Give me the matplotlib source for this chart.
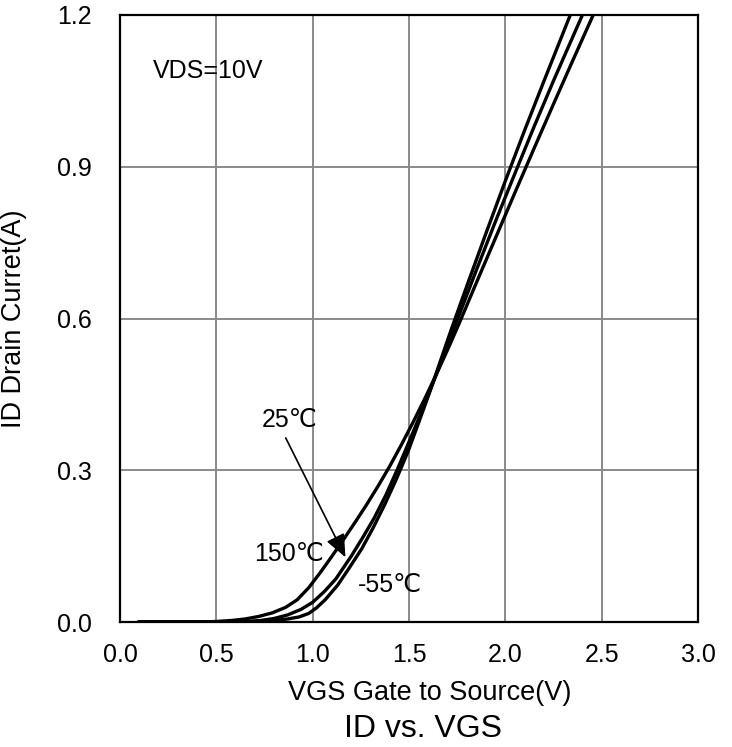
import numpy as np
import matplotlib
matplotlib.use("Agg")
import matplotlib.pyplot as plt

plt.rcParams['font.family'] = ['Liberation Sans', 'DejaVu Sans']

# ID vs VGS curves
vgs_150 = [0.10, 0.42, 0.50, 0.58, 0.65, 0.72, 0.79, 0.86, 0.92, 0.98, 1.04, 1.10,
           1.16, 1.22, 1.28, 1.34, 1.40, 1.46, 1.52, 1.58, 1.64, 1.70, 1.76,
           1.85, 1.95, 2.05, 2.15, 2.25, 2.35, 2.456]
id_150 = [0.0, 0.0, 0.001, 0.003, 0.006, 0.011, 0.018, 0.029, 0.044, 0.068, 0.098, 0.130,
          0.163, 0.197, 0.232, 0.269, 0.308, 0.350, 0.394, 0.440, 0.488, 0.538, 0.590,
          0.671, 0.760, 0.849, 0.937, 1.024, 1.110, 1.200]

vgs_25 = [0.10, 0.55, 0.65, 0.73, 0.80, 0.87, 0.94, 1.00, 1.06, 1.12, 1.20, 1.26,
          1.32, 1.38, 1.44, 1.50, 1.56, 1.62, 1.68, 1.75, 1.85, 1.95, 2.05,
          2.15, 2.25, 2.40]
id_25 = [0.0, 0.0, 0.001, 0.003, 0.007, 0.014, 0.025, 0.039, 0.060, 0.085, 0.130, 0.167,
         0.206, 0.251, 0.302, 0.356, 0.411, 0.468, 0.527, 0.597, 0.696, 0.793, 0.887,
         0.980, 1.070, 1.200]

vgs_m55 = [0.10, 0.62, 0.72, 0.80, 0.87, 0.93, 0.98, 1.02, 1.065, 1.13, 1.19, 1.255,
           1.315, 1.375, 1.435, 1.495, 1.55, 1.607, 1.663, 1.72, 1.80, 1.90, 2.00,
           2.10, 2.20, 2.337]
id_m55 = [0.0, 0.0, 0.001, 0.003, 0.006, 0.010, 0.017, 0.028, 0.044, 0.073, 0.107, 0.145,
          0.187, 0.233, 0.283, 0.337, 0.394, 0.454, 0.516, 0.579, 0.664, 0.769, 0.872,
          0.972, 1.069, 1.200]

xticks = [0.0, 0.5, 1.0, 1.5, 2.0, 2.5, 3.0]
yticks = [0.0, 0.3, 0.6, 0.9, 1.2]

fig = plt.figure(figsize=(7.32, 7.47), dpi=100)
ax = fig.add_axes([120/732, 1-622/747, 578/732, 607/747])

for v, i in [(vgs_150, id_150), (vgs_25, id_25), (vgs_m55, id_m55)]:
    ax.plot(v, i, color='black', lw=2.4, solid_joinstyle='round', zorder=3)

ax.set_xlim(0, 3)
ax.set_ylim(0, 1.2)
ax.set_xticks(xticks)
ax.set_yticks(yticks)
ax.set_xticklabels(['%.1f' % t for t in xticks])
ax.set_yticklabels(['%.1f' % t for t in yticks])
ax.tick_params(axis='both', length=0, labelsize=18)
ax.tick_params(axis='x', pad=15)
ax.tick_params(axis='y', pad=20)
ax.grid(True, color='#8a8a8a', lw=1.4)
ax.set_axisbelow(True)
for s in ax.spines.values():
    s.set_linewidth(1.6)
    s.set_color('black')

ax.text(0.17, 1.09, 'VDS=10V', fontsize=18, ha='left', va='center')
ax.text(0.88, 0.40, '25℃', fontsize=18, ha='center', va='center')
ax.text(0.88, 0.134, '150℃', fontsize=18, ha='center', va='center')
ax.text(1.40, 0.073, '-55℃', fontsize=18, ha='center', va='center')
ax.annotate('', xy=(1.17, 0.128), xytext=(0.86, 0.364),
            arrowprops=dict(arrowstyle='-|>,head_length=0.7,head_width=0.3',
                            color='black', lw=1.2, mutation_scale=20,
                            shrinkA=0, shrinkB=0))

fig.text(430/732, 1-693/747, 'VGS Gate to Source(V)', fontsize=19.5, ha='center', va='center')
ax.set_ylabel('ID Drain Curret(A)', fontsize=19.5)
ax.yaxis.set_label_coords(-(120-27)/578, 0.5)
fig.text(423/732, 1-729/747, 'ID vs. VGS', fontsize=23, ha='center', va='center')

fig.savefig('out.png', dpi=100)
